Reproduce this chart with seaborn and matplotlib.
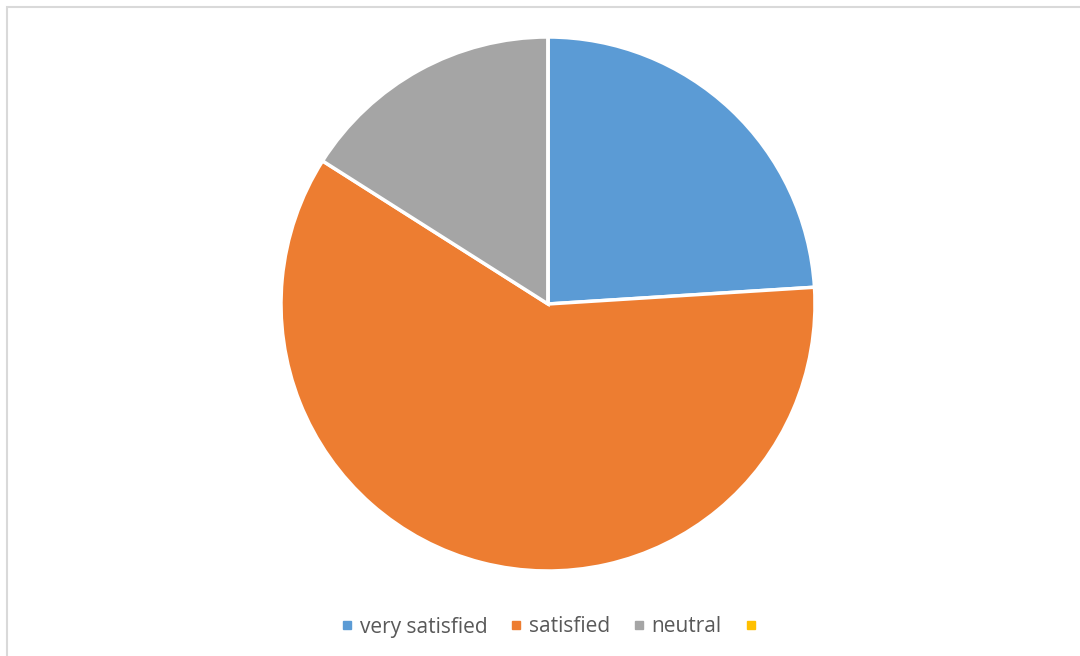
import matplotlib
matplotlib.use("Agg")
import matplotlib.pyplot as plt
from matplotlib.lines import Line2D
from matplotlib.patches import Rectangle
import seaborn as sns

categories = ["very satisfied", "satisfied", "neutral", ""]
shares = [24, 60, 16, 0]
colors = ["#5B9BD5", "#ED7D31", "#A5A5A5", "#FFC000"]

sns.set_theme(style="white")
plt.rcParams["font.family"] = ["Open Sans", "DejaVu Sans"]

W, H = 1080, 656
fig = plt.figure(figsize=(W / 100, H / 100), dpi=100)
fig.patch.set_facecolor("white")

# chart frame (top and left edges visible)
fig.patches.append(Rectangle((7 / W, -0.1), 1.2, 1 - 7 / H + 0.1,
                             transform=fig.transFigure, fill=False,
                             edgecolor="#D9D9D9", linewidth=1.5))

cx, cy, r = 548, 304, 267
ax = fig.add_axes([(cx - r) / W, (H - cy - r) / H, 2 * r / W, 2 * r / H])
wedges, _ = ax.pie(shares, colors=colors, startangle=90, counterclock=False,
                   radius=1.0, wedgeprops=dict(edgecolor="white", linewidth=2.5))
for w in wedges:
    w.set_clip_on(False)
ax.set_xlim(-1, 1)
ax.set_ylim(-1, 1)
ax.set_aspect("equal")
ax.axis("off")

handles = [Line2D([], [], marker="s", linestyle="none", markersize=5.5,
                  markerfacecolor=c, markeredgecolor=c) for c in colors]
fig.legend(handles, categories, loc="center", ncol=4, frameon=False,
           bbox_to_anchor=(550 / W, 1 - 627 / H), fontsize=15,
           labelcolor="#595959", handletextpad=0.1, columnspacing=0.9,
           handlelength=1.0)

fig.savefig("out.png", dpi=100, facecolor="white")
